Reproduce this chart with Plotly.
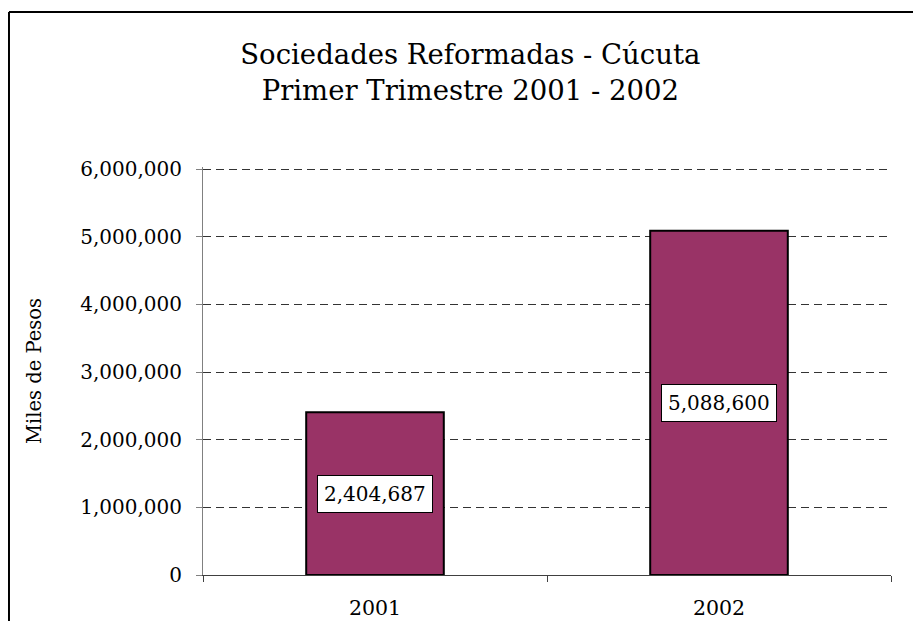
import plotly.graph_objects as go

years = ["2001", "2002"]
values = [2404687, 5088600]
y_ticks = [0, 1000000, 2000000, 3000000, 4000000, 5000000, 6000000]

title_text = "Sociedades Reformadas - Cúcuta<br>Primer Trimestre 2001 - 2002"
y_title = "Miles de Pesos"

FONT = "DejaVu Serif"

fig = go.Figure()
fig.add_trace(go.Bar(
    x=years, y=values, width=0.4,
    marker=dict(color="#993366", line=dict(color="black", width=2)),
    hoverinfo="skip",
))

for i, v in enumerate(values):
    fig.add_annotation(
        x=i, y=v / 2, xref="x", yref="y",
        text=f"{v:,}", showarrow=False,
        font=dict(family=FONT, size=20, color="black"),
        bgcolor="white", bordercolor="black", borderwidth=1, borderpad=6,
    )

# outer chart border (left and top edges), in paper units of the 408px-tall plot
fig.add_shape(type="line", xref="paper", yref="paper",
              x0=-0.282, x1=1.2, y0=1.38, y1=1.38,
              line=dict(color="black", width=2), layer="above")
fig.add_shape(type="line", xref="paper", yref="paper",
              x0=-0.282, x1=-0.282, y0=-0.3, y1=1.38,
              line=dict(color="black", width=2), layer="above")

fig.update_layout(
    width=921, height=621,
    margin=dict(l=195, r=38, t=159, b=54, pad=0, autoexpand=False),
    paper_bgcolor="white", plot_bgcolor="white",
    showlegend=False,
    font=dict(family=FONT, color="black"),
    title=dict(text=title_text, x=0.502, xanchor="center", xref="container",
               y=0.91, yanchor="top", yref="container",
               font=dict(family=FONT, size=27.5, color="black")),
)
fig.update_xaxes(
    type="category", range=[-0.5, 1.5], tickson="boundaries",
    ticks="outside", ticklen=6,
    tickcolor="#404040", showline=True, linecolor="#404040", linewidth=1,
    showgrid=False, tickfont=dict(family=FONT, size=20.5, color="black"),
    ticklabelstandoff=14, tickangle=0, automargin=False,
)
fig.update_yaxes(
    range=[0, 6030000], tickvals=y_ticks, tickformat=",",
    ticks="outside", ticklen=6, tickcolor="#808080",
    showline=True, linecolor="#808080", linewidth=1,
    showgrid=True, gridcolor="#333333", griddash="8px,5px", gridwidth=1,
    zeroline=False, automargin=False,
    tickfont=dict(family=FONT, size=20, color="black"),
    ticklabelstandoff=10,
    title=dict(text=y_title, font=dict(family=FONT, size=19.5, color="black"), standoff=33),
)

fig.write_html("out.html")
